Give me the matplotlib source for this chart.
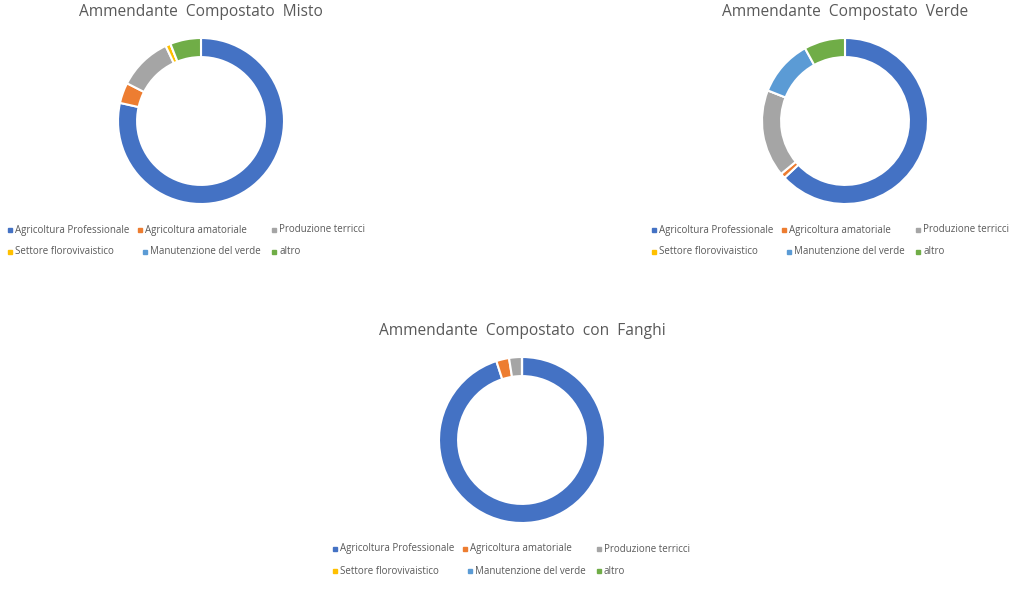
import matplotlib
matplotlib.use("Agg")
import matplotlib.pyplot as plt
from matplotlib.lines import Line2D

categories = ["Agricoltura Professionale", "Agricoltura amatoriale", "Produzione terricci",
              "Settore florovivaistico", "Manutenzione del verde", "altro"]
colors = ["#4472C4", "#ED7D31", "#A5A5A5", "#FFC000", "#5B9BD5", "#70AD47"]

titles = ["Ammendante  Compostato  Misto", "Ammendante  Compostato  Verde",
          "Ammendante  Compostato  con  Fanghi"]
misto = [78.5, 4.0, 10.5, 1.0, 0.0, 6.0]
verde = [63.0, 1.0, 17.0, 0.0, 11.0, 8.0]
fanghi = [95.0, 2.5, 2.5, 0.0, 0.0, 0.0]
series = [misto, verde, fanghi]

W, H = 1024, 591
fig = plt.figure(figsize=(W / 100, H / 100), dpi=100)
fig.patch.set_facecolor("white")

# layout in pixels (top-origin): center x, center y, radius, title y, legend x, legend y
layout = [
    (201, 121, 83, 12, 10, 230),
    (845, 121, 83, 12, 654, 230),
    (522, 440, 83, 331, 335, 549),
]
col_offsets = [[0, 130, 264], [0, 135, 264]]
font = "Open Sans"
txt_color = "#595959"

for (cx, cy, r, ty, lx, ly), vals, title in zip(layout, series, titles):
    ax = fig.add_axes([(cx - r) / W, (H - cy - r) / H, 2 * r / W, 2 * r / H])
    ax.pie(vals, colors=colors, startangle=90, counterclock=False, radius=1.0,
           wedgeprops=dict(width=0.23, edgecolor="white", linewidth=1.5))
    ax.set_xlim(-1.0, 1.0)
    ax.set_ylim(-1.0, 1.0)
    ax.set_aspect("equal")
    ax.axis("off")
    fig.text(cx / W, 1 - ty / H, title, ha="center", va="center",
             fontsize=11.2, color=txt_color, family=font)
    for i, (cat, col) in enumerate(zip(categories, colors)):
        row, c = divmod(i, 3)
        px = lx + col_offsets[row][c]
        py = ly + row * 22
        fig.add_artist(Line2D([px / W], [1 - py / H], marker="s", markersize=2.4,
                              color=col, linestyle="none", transform=fig.transFigure))
        fig.text((px + 5) / W, 1 - py / H, cat, ha="left", va="center",
                 fontsize=7.0, color=txt_color, family=font)

fig.savefig("out.png", dpi=100, facecolor="white")
